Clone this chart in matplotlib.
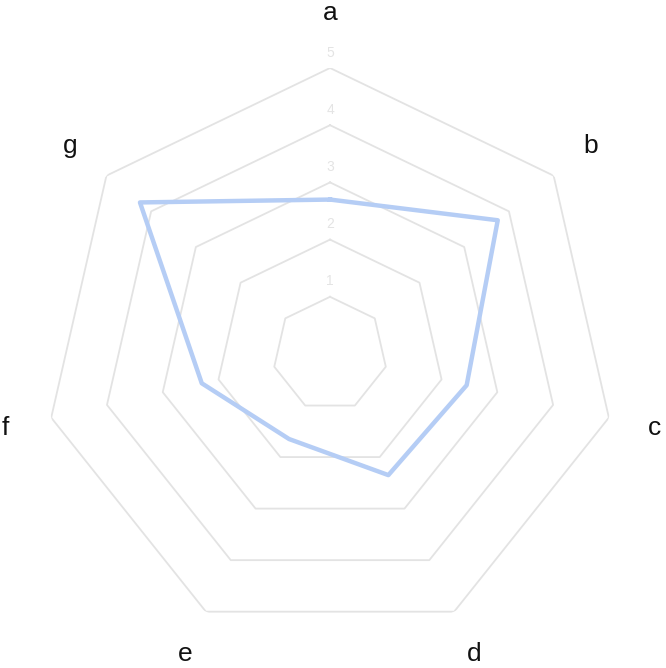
import numpy as np
import matplotlib.pyplot as plt

categories = ['a', 'b', 'c', 'd', 'e', 'f', 'g']
values = [2.7, 3.75, 2.45, 2.35, 1.65, 2.3, 4.25]
levels = [1, 2, 3, 4, 5]

n = len(categories)
angles = np.linspace(0, 2 * np.pi, n, endpoint=False)
closed = np.append(angles, angles[0])

fig = plt.figure(figsize=(6.66, 6.68), dpi=100)
ax = fig.add_axes([0.0661, 0.0419, 0.8589, 0.8563], projection='polar')
ax.set_theta_zero_location('N')
ax.set_theta_direction(-1)
ax.set_ylim(0, 5)
ax.axis('off')

# heptagon grid
for lv in levels:
    ax.plot(closed, [lv] * (n + 1), color='#e3e3e3', lw=1.3, zorder=1)
    ax.text(0, lv + 0.27, str(lv), color='#e4e4e4', fontsize=10,
            ha='center', va='center', family='Liberation Sans')

ax.plot(closed, values + values[:1], color='#b5cdf5', lw=3.2, zorder=3)

for ang, lab in zip(angles, categories):
    r = 5.97 if lab == 'a' else 5.82
    ax.text(ang, r, lab, fontsize=19, ha='center', va='center',
            family='Liberation Sans', color='#111111')

fig.savefig('out.png', dpi=100)
